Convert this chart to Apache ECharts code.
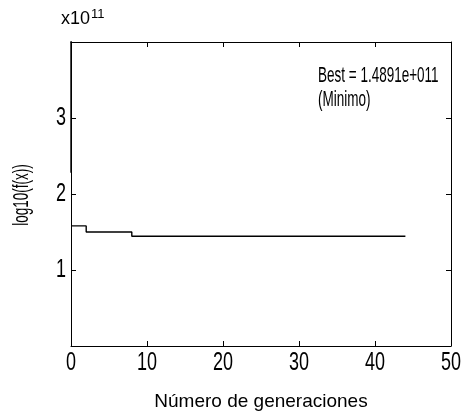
<!DOCTYPE html>
<html>
<head>
<meta charset="utf-8">
<script src="https://cdn.jsdelivr.net/npm/echarts@6/dist/echarts.min.js"></script>
<style>
html,body{margin:0;padding:0;background:#fff;}
#chart{width:465px;height:420px;}
</style>
</head>
<body>
<div id="chart"></div>
<script>
// generations 0..44
const generations = Array.from({length: 45}, (_, i) => i);
// best fitness (x1e11)
const bestValues = [
  1.58, 1.58, 1.50, 1.50, 1.50, 1.50, 1.50, 1.50, 1.445, 1.445,
  1.445, 1.445, 1.445, 1.445, 1.445, 1.445, 1.445, 1.445, 1.445, 1.445,
  1.445, 1.445, 1.445, 1.445, 1.445, 1.445, 1.445, 1.445, 1.445, 1.445,
  1.445, 1.445, 1.445, 1.445, 1.445, 1.445, 1.445, 1.445, 1.445, 1.445,
  1.445, 1.445, 1.445, 1.445, 1.445
];
// initial vertical excursion at generation 0 (clipped at the top)
const initialX = [0, 0];
const initialY = [6, 2.28];

const xTickValues = [0, 10, 20, 30, 40, 50];
const yTickValues = [1, 2, 3];

const FONT = 'Liberation Sans, Arial, sans-serif';
const chart = echarts.init(document.getElementById('chart'), null, {renderer: 'canvas'});

const axisLine = {show: true, onZero: false, lineStyle: {color: '#000', width: 1}};
const tick = {show: true, inside: true, length: 5, lineStyle: {color: '#000', width: 1}};

chart.setOption({
  animation: false,
  backgroundColor: '#fff',
  grid: {left: 71, top: 42, right: 14, bottom: 74, containLabel: false},
  xAxis: [{
    type: 'value', min: 0, max: 50, interval: 10, position: 'bottom',
    axisLine: axisLine, axisTick: tick, splitLine: {show: false},
    axisLabel: {show: false},
    name: 'Número de generaciones', nameLocation: 'middle', nameGap: 46,
    nameTextStyle: {color: '#000', fontFamily: FONT, fontSize: 19}
  }, {
    type: 'value', min: 0, max: 50, interval: 10, position: 'top',
    axisLine: axisLine, axisTick: tick, axisLabel: {show: false}, splitLine: {show: false}
  }],
  yAxis: [{
    type: 'value', min: 0, max: 4, interval: 1, position: 'left',
    axisLine: axisLine, axisTick: tick, splitLine: {show: false},
    axisLabel: {show: false}
  }, {
    type: 'value', min: 0, max: 4, interval: 1, position: 'right',
    axisLine: axisLine, axisTick: tick, axisLabel: {show: false}, splitLine: {show: false}
  }],
  series: [{
    type: 'line', step: 'end', showSymbol: false, clip: true,
    data: generations.map((g, i) => [g, bestValues[i]]),
    lineStyle: {color: '#000', width: 1.4}
  }, {
    type: 'line', showSymbol: false, clip: true,
    data: initialX.map((x, i) => [x, initialY[i]]),
    lineStyle: {color: '#000', width: 1.4}
  }]
});

// Tall, narrow labels (as in the reference), positioned through the axis scales
const TALL = 1.4;
const graphics = [];
xTickValues.forEach(v => {
  const p = chart.convertToPixel({xAxisIndex: 0, yAxisIndex: 0}, [v, 0]);
  graphics.push({
    type: 'text', x: p[0], y: p[1] + 17, scaleY: TALL, silent: true,
    style: {text: String(v), fontFamily: FONT, fontSize: 18, fill: '#000',
      align: 'center', verticalAlign: 'middle'}
  });
});
yTickValues.forEach(v => {
  const p = chart.convertToPixel({xAxisIndex: 0, yAxisIndex: 0}, [0, v]);
  graphics.push({
    type: 'text', x: p[0] - 5, y: p[1], scaleY: TALL, silent: true,
    style: {text: String(v), fontFamily: FONT, fontSize: 18, fill: '#000',
      align: 'right', verticalAlign: 'middle'}
  });
});
// y axis name (rotated)
graphics.push({
  type: 'text', x: 22, y: 195, rotation: Math.PI / 2, scaleY: 1.6, silent: true,
  style: {text: 'log10(f(x))', fontFamily: FONT, fontSize: 13.5, fill: '#000',
    align: 'center', verticalAlign: 'middle'}
});
// exponent
graphics.push({
  type: 'text', x: 61, y: 28, silent: true,
  style: {text: 'x10', fontFamily: FONT, fontSize: 18, fill: '#000',
    align: 'left', verticalAlign: 'bottom'}
});
graphics.push({
  type: 'text', x: 91, y: 21, silent: true,
  style: {text: '11', fontFamily: FONT, fontSize: 13, fill: '#000',
    align: 'left', verticalAlign: 'bottom'}
});
// annotation
graphics.push({
  type: 'text', x: 318, y: 76, scaleY: 1.6, silent: true,
  style: {text: 'Best = 1.4891e+011', fontFamily: FONT, fontSize: 13.5, fill: '#000',
    align: 'left', verticalAlign: 'middle'}
});
graphics.push({
  type: 'text', x: 318, y: 100, scaleY: 1.6, silent: true,
  style: {text: '(Minimo)', fontFamily: FONT, fontSize: 13.5, fill: '#000',
    align: 'left', verticalAlign: 'middle'}
});
chart.setOption({graphic: graphics});
</script>
</body>
</html>
